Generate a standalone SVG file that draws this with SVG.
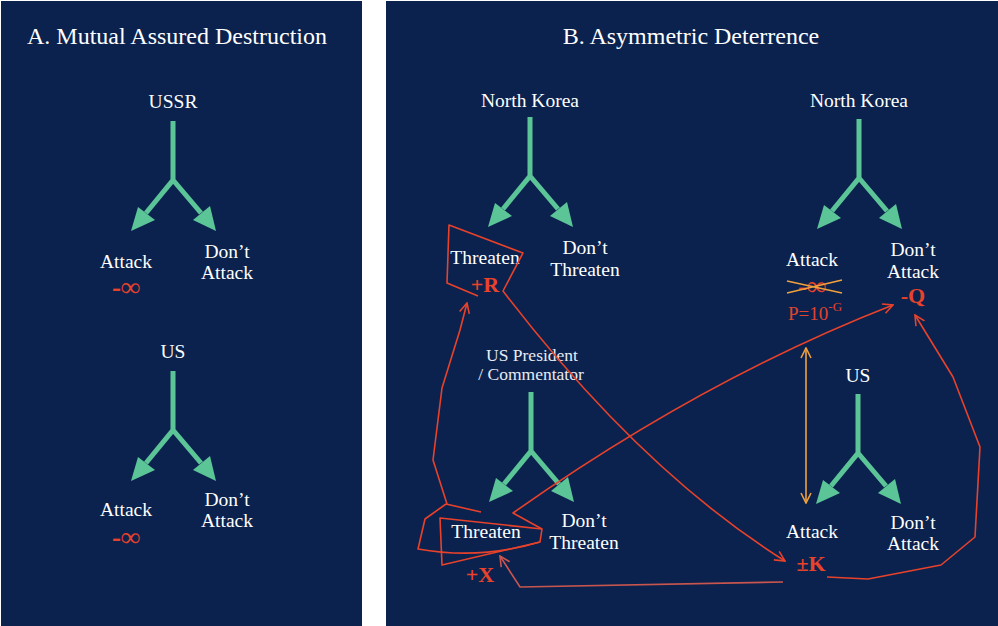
<svg xmlns="http://www.w3.org/2000/svg" width="998" height="626" viewBox="0 0 998 626">
<defs>
<style>
.bg{fill:#0b224e}
.t{font-family:'Liberation Serif','Times New Roman',Times,'DejaVu Serif',serif;fill:#ffffff;text-anchor:middle}
.title{font-size:24px}
.lbl{font-size:19.5px}
.sm{font-size:17.5px;fill:#e8ecf4}
.pay{font-family:'Liberation Serif','Times New Roman',Times,'DejaVu Serif',serif;fill:#e8422b;font-weight:bold;text-anchor:middle;font-size:22px}
.inf{font-size:27px}
.pp{font-family:'Liberation Serif','Times New Roman',Times,'DejaVu Serif',serif;fill:#e0442d;font-size:19px}
.stem{stroke:#5cc598;stroke-width:5;fill:none}
.head{fill:#5cc598}
.red{stroke:#e8422b;stroke-width:1.6;fill:none;stroke-linejoin:round}
.redm{stroke:#c9564e;stroke-width:1.6;fill:none}
.org{stroke:#f0a03c;stroke-width:1.6;fill:none}
</style>
<marker id="ar" viewBox="0 0 12 12" refX="11" refY="6" markerWidth="12" markerHeight="12" markerUnits="userSpaceOnUse" orient="auto">
<path d="M1,1 L11,6 L1,11" fill="none" stroke="#e8422b" stroke-width="1.6"/>
</marker>
<marker id="arm" viewBox="0 0 12 12" refX="11" refY="6" markerWidth="12" markerHeight="12" markerUnits="userSpaceOnUse" orient="auto">
<path d="M1,1 L11,6 L1,11" fill="none" stroke="#c9564e" stroke-width="1.6"/>
</marker>
<marker id="ao" viewBox="0 0 12 12" refX="11" refY="6" markerWidth="12" markerHeight="12" markerUnits="userSpaceOnUse" orient="auto-start-reverse">
<path d="M1,1 L11,6 L1,11" fill="none" stroke="#f0a03c" stroke-width="1.6"/>
</marker>
<g id="fork">
<path class="stem" d="M0,0 V59 L-27,92 M0,59 L28,92"/>
<polygon class="head" points="-42,110 -35,86 -18,99"/>
<polygon class="head" points="43,110 20,99 37,85"/>
</g>
</defs>
<rect x="0" y="0" width="998" height="626" fill="#ffffff"/>
<rect class="bg" x="1" y="1" width="361" height="625"/>
<rect class="bg" x="386" y="1" width="612" height="625"/>

<text class="t title" x="177" y="44">A. Mutual Assured Destruction</text>
<text class="t title" x="691" y="44">B. Asymmetric Deterrence</text>

<g id="ussr">
<text class="t lbl" x="173" y="108">USSR</text>
<use href="#fork" x="173" y="121"/>
<text class="t lbl" x="126" y="268">Attack</text>
<text class="pay inf" x="126" y="296">-∞</text>
<text class="t lbl" x="227" y="258">Don’t</text>
<text class="t lbl" x="227" y="279">Attack</text>
</g>

<g id="us-a">
<text class="t lbl" x="173" y="358">US</text>
<use href="#fork" x="173" y="371"/>
<text class="t lbl" x="126" y="516">Attack</text>
<text class="pay inf" x="126" y="546">-∞</text>
<text class="t lbl" x="227" y="506">Don’t</text>
<text class="t lbl" x="227" y="527">Attack</text>
</g>

<g id="nk1">
<text class="t lbl" x="530" y="107">North Korea</text>
<use href="#fork" x="530" y="117"/>
<text class="t lbl" x="485" y="264">Threaten</text>
<text class="pay" x="485" y="292">+R</text>
<text class="t lbl" x="585" y="254">Don’t</text>
<text class="t lbl" x="585" y="276">Threaten</text>
</g>

<g id="nk2">
<text class="t lbl" x="859" y="107">North Korea</text>
<use href="#fork" x="859" y="119"/>
<text class="t lbl" x="812" y="266">Attack</text>
<text class="pay inf" x="812" y="295">-∞</text>
<path class="org" d="M787,281 L842,293 M787,293 L842,280"/>
<text class="pp" x="788" y="320">P=10<tspan font-size="13" dy="-9">-G</tspan></text>
<text class="t lbl" x="913" y="256">Don’t</text>
<text class="t lbl" x="913" y="278">Attack</text>
<text class="pay" x="913" y="303">-Q</text>
</g>

<g id="usp">
<text class="t sm" x="532" y="361">US President</text>
<text class="t sm" x="531" y="380">/ Commentator</text>
<use href="#fork" x="531" y="392"/>
<text class="t lbl" x="486" y="538">Threaten</text>
<text class="pay" x="480" y="582">+X</text>
<text class="t lbl" x="584" y="527">Don’t</text>
<text class="t lbl" x="584" y="549">Threaten</text>
</g>

<g id="us-b">
<text class="t lbl" x="858" y="382">US</text>
<use href="#fork" x="858" y="394"/>
<text class="t lbl" x="812" y="538">Attack</text>
<text class="pay" x="811" y="571">±K</text>
<text class="t lbl" x="913" y="529">Don’t</text>
<text class="t lbl" x="913" y="550">Attack</text>
</g>

<g id="connectors">
<path class="red" marker-end="url(#ar)" d="M478,296 L447,283 L449,225 L523,253 L503,291 Q640,470 785,561"/>
<path class="red" marker-end="url(#ar)" d="M447,504 L433,460 L442,388 L460,330 L467,303"/>
<path class="red" d="M446,504 L481,512 M446,504 L425,519 L418,549 Q480,560 540,542"/>
<path class="red" d="M440,518 L542,529 L540,542 L442,565 Z"/>
<path class="red" marker-end="url(#ar)" d="M542,529 L513,513 Q703,379 893,305"/>
<path class="red" marker-end="url(#ar)" d="M827,577 L868,579 L941,565 L975,537 L980,447 L953,377 L915,315"/>
<path class="redm" marker-end="url(#arm)" d="M783,582 L520,587 L500,556"/>
<path class="org" marker-start="url(#ao)" marker-end="url(#ao)" d="M806,348 V503"/>
</g>
</svg>
